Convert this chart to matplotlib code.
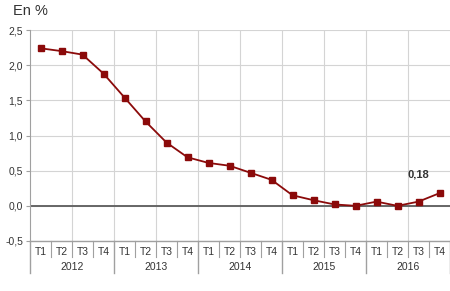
import matplotlib
matplotlib.use("Agg")
import matplotlib.pyplot as plt

years = ["2012", "2013", "2014", "2015", "2016"]
quarters = ["T1", "T2", "T3", "T4"]
values = [2.24, 2.20, 2.15, 1.88,
          1.54, 1.20, 0.90, 0.69,
          0.61, 0.57, 0.47, 0.37,
          0.15, 0.08, 0.02, 0.00,
          0.06, 0.00, 0.06, 0.18]
yticks = [-0.5, 0.0, 0.5, 1.0, 1.5, 2.0, 2.5]
last_label = "0,18"

line_col = "#8b0a0a"
grid_col = "#d4d4d4"
axis_col = "#a0a0a0"
text_col = "#333333"

plt.rcParams["font.family"] = ["Liberation Sans", "DejaVu Sans"]

fig = plt.figure(figsize=(4.5, 2.91), dpi=100)
ax = fig.add_axes([30 / 450, 1 - 241 / 291, 420 / 450, 211 / 291])

n = len(values)
x = list(range(n))
ax.set_xlim(-0.5, n - 0.5)
ax.set_ylim(-0.5, 2.5)

# grid
for yv in yticks:
    ax.axhline(yv, color=grid_col, lw=0.8, zorder=0)
for k in range(2, n, 2):
    ax.axvline(k - 0.5, color=grid_col, lw=0.8, zorder=0)
ax.axhline(0, color="#666666", lw=1.4, zorder=1)

ax.plot(x, values, color=line_col, lw=1.3, marker="s", ms=4, zorder=3)
ax.text(n - 2, values[-1] + 0.26, last_label, ha="center", va="center",
        fontsize=8, fontweight="bold", color=text_col)

for s in ["top", "right", "bottom"]:
    ax.spines[s].set_visible(False)
ax.spines["left"].set_color(axis_col)
ax.set_xticks([])
ax.set_yticks(yticks)
ax.set_yticklabels([f"{v:.1f}".replace(".", ",") for v in yticks],
                   fontsize=7.5, color=text_col)
ax.tick_params(axis="y", length=3, color=axis_col, pad=2)

# category axis drawn below the plot
tr = ax.get_xaxis_transform()
ax.plot([-0.5, n - 0.5], [0, 0], transform=tr, color=axis_col, lw=1,
        clip_on=False)
for i in range(n):
    ax.text(i, -0.054, quarters[i % 4], transform=tr, ha="center",
            va="center", fontsize=7.5, color=text_col)
    if i % 4 != 0:
        ax.plot([i - 0.5, i - 0.5], [0, -0.076], transform=tr,
                color=axis_col, lw=0.8, clip_on=False)
for j, yr in enumerate(years):
    ax.text(j * 4 + 1.5, -0.125, yr, transform=tr, ha="center",
            va="center", fontsize=7.5, color=text_col)
for j in range(len(years) + 1):
    ax.plot([j * 4 - 0.5, j * 4 - 0.5], [0, -0.152], transform=tr,
            color=axis_col, lw=1, clip_on=False)

fig.text(13 / 450, 1 - 11 / 291, "En %", ha="left", va="center",
         fontsize=10.5, color=text_col)

fig.savefig("out.png", dpi=100)
